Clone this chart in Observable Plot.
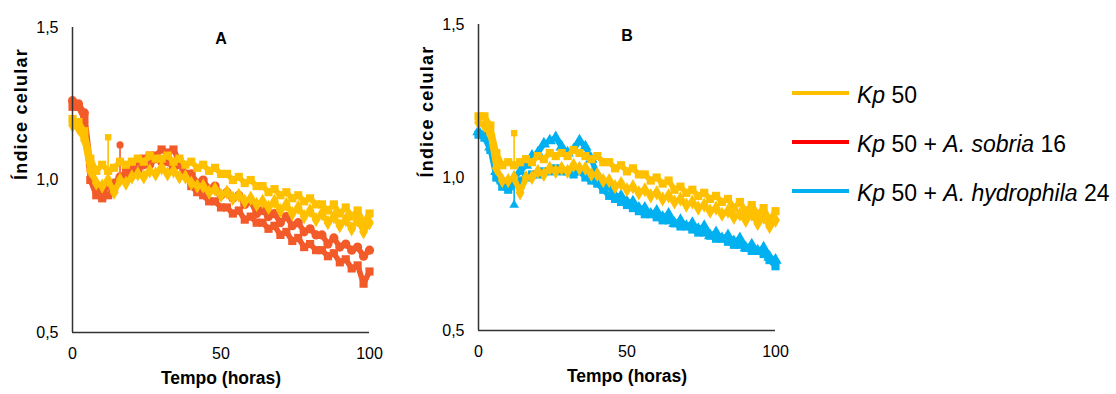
<!DOCTYPE html>
<html><head><meta charset="utf-8">
<script src="https://cdn.jsdelivr.net/npm/d3@7"></script>
<script src="https://cdn.jsdelivr.net/npm/@observablehq/plot@0.6"></script>
<style>
body{margin:0;background:#fff;font-family:"Liberation Sans",Arial,sans-serif;}
#wrap{position:relative;width:1116px;height:394px;overflow:hidden;background:#fff}
#pa{position:absolute;left:0;top:0}
#pb{position:absolute;left:406px;top:0}
#legend{position:absolute;left:792px;top:0;width:324px;height:394px}
.row{position:absolute;left:0;height:28px;white-space:nowrap;display:flex;align-items:center}
.sw{width:57px;height:4px;flex:none}
.lab{margin-left:8px;font-size:23px;color:#000;position:relative;top:2px}
</style></head>
<body><div id="wrap"><div id="pa"></div><div id="pb"></div><div id="legend"></div></div>
<script>
// ---- data ----
const hours = [0,2,4,6,8,10,12,14,16,18,20,22,24,26,28,30,32,34,36,38,40,42,44,46,48,50,52,54,56,58,60,62,64,66,68,70,72,74,76,78,80,82,84,86,88,90,92,94,96,98,100];

const xTicks = [0, 50, 100];
const yTicks = [0.5, 1.0, 1.5];
const panelLabels = ["A", "B"];
const xTitle = "Tempo (horas)";
const yTitle = "Índice celular";

// Panel A
const aKp50rep1 = [1.20,1.19,1.16,1.07,1.03,1.05,1.03,1.04,1.06,1.05,1.06,1.07,1.06,1.08,1.07,1.07,1.08,1.06,1.07,1.05,1.06,1.04,1.05,1.03,1.04,1.02,1.02,1.00,1.01,0.99,1.00,0.98,0.98,0.96,0.97,0.95,0.96,0.94,0.95,0.93,0.94,0.92,0.92,0.90,0.92,0.89,0.91,0.88,0.90,0.86,0.89];
const aKp50rep2 = [1.18,1.17,1.13,1.03,0.99,0.98,1.00,0.96,1.00,0.99,1.01,1.02,1.01,1.03,1.02,1.04,1.02,1.03,1.01,1.01,0.99,0.98,0.98,0.96,0.97,0.95,0.96,0.94,0.95,0.93,0.94,0.92,0.93,0.91,0.93,0.90,0.92,0.89,0.91,0.88,0.90,0.87,0.89,0.86,0.88,0.85,0.87,0.84,0.87,0.83,0.86];
const aSobriaRep1 = [1.26,1.25,1.22,1.05,0.97,0.96,0.98,0.99,1.01,1.01,1.03,1.03,1.05,1.05,1.07,1.06,1.06,1.04,1.05,1.02,1.02,0.99,1.00,0.97,0.98,0.95,0.96,0.94,0.95,0.92,0.93,0.89,0.90,0.88,0.89,0.86,0.88,0.85,0.86,0.83,0.84,0.82,0.82,0.79,0.81,0.78,0.79,0.77,0.78,0.75,0.77];
const aSobriaRep2 = [1.24,1.24,1.20,1.00,0.95,0.94,0.95,0.97,1.00,1.03,1.04,1.06,1.07,1.08,1.08,1.10,1.09,1.10,1.06,1.02,0.98,0.96,0.95,0.93,0.93,0.91,0.91,0.89,0.90,0.87,0.88,0.86,0.86,0.84,0.85,0.82,0.83,0.80,0.81,0.78,0.79,0.77,0.77,0.75,0.76,0.73,0.74,0.71,0.72,0.66,0.70];

// Panel B
const bKp50rep1 = [1.20,1.20,1.17,1.08,1.04,1.05,1.04,1.05,1.06,1.05,1.07,1.06,1.08,1.07,1.08,1.07,1.09,1.08,1.07,1.06,1.07,1.05,1.05,1.03,1.04,1.02,1.03,1.01,1.01,0.99,1.00,0.98,0.99,0.96,0.97,0.95,0.96,0.94,0.95,0.93,0.94,0.92,0.93,0.90,0.92,0.89,0.91,0.88,0.90,0.86,0.89];
const bKp50rep2 = [1.18,1.17,1.14,1.03,0.99,0.99,1.00,0.95,1.00,1.00,1.02,1.01,1.03,1.02,1.03,1.02,1.04,1.03,1.03,1.01,1.01,0.99,0.99,0.97,0.98,0.96,0.97,0.95,0.96,0.94,0.95,0.93,0.94,0.92,0.93,0.91,0.92,0.90,0.91,0.89,0.90,0.88,0.89,0.87,0.88,0.86,0.88,0.85,0.87,0.84,0.86];
const bHydroRep1 = [1.15,1.14,1.10,1.02,0.99,0.97,1.00,1.02,1.04,1.07,1.08,1.11,1.12,1.13,1.10,1.08,1.09,1.12,1.10,1.06,1.01,0.98,0.97,0.94,0.94,0.92,0.92,0.90,0.90,0.88,0.89,0.87,0.88,0.85,0.86,0.84,0.85,0.83,0.84,0.81,0.82,0.80,0.81,0.79,0.80,0.77,0.78,0.76,0.77,0.74,0.73];
const bHydroRep2 = [1.14,1.13,1.09,1.00,0.97,0.96,0.98,0.99,1.00,1.01,1.01,1.02,1.02,1.03,1.02,1.02,1.01,1.02,1.00,0.99,0.98,0.96,0.94,0.93,0.92,0.91,0.90,0.89,0.88,0.88,0.87,0.86,0.86,0.85,0.84,0.84,0.83,0.82,0.82,0.81,0.80,0.80,0.79,0.78,0.78,0.77,0.76,0.76,0.75,0.73,0.71];

// error-bar spikes: series name, hour, end value
const spikeSeries = ["aKp50rep1", "aSobriaRep1", "bKp50rep1", "bHydroRep1"];
const spikeHours  = [12, 16, 12, 12];
const spikeEnds   = [1.14, 1.115, 1.145, 0.91];

const legendNames = [["Kp"," 50"], ["Kp"," 50 + ","A. sobria"," 16"], ["Kp"," 50 + ","A. hydrophila"," 24"]];
const legendColors = ["#FFC000", "#FF0000", "#00B0F0"];

// ---- styling ----
const YEL = "#FFC000", RED = "#F35A2A", BLU = "#00B0F0";
const seriesDefs = {
  aKp50rep1: {vals: aKp50rep1, color: YEL, symbol: "square"},
  aKp50rep2: {vals: aKp50rep2, color: YEL, symbol: "diamond"},
  aSobriaRep1: {vals: aSobriaRep1, color: RED, symbol: "circle"},
  aSobriaRep2: {vals: aSobriaRep2, color: RED, symbol: "square"},
  bKp50rep1: {vals: bKp50rep1, color: YEL, symbol: "square"},
  bKp50rep2: {vals: bKp50rep2, color: YEL, symbol: "diamond"},
  bHydroRep1: {vals: bHydroRep1, color: BLU, symbol: "triangle"},
  bHydroRep2: {vals: bHydroRep2, color: BLU, symbol: "square"}
};
const panelSeries = [
  ["aSobriaRep2", "aSobriaRep1", "aKp50rep2", "aKp50rep1"],
  ["bHydroRep2", "bHydroRep1", "bKp50rep2", "bKp50rep1"]
];

function rowsFor(names) {
  const rows = [];
  for (const n of names) {
    const d = seriesDefs[n];
    hours.forEach((h, i) => rows.push({series: n, hour: h, value: d.vals[i], color: d.color, symbol: d.symbol}));
  }
  return rows;
}
function spikesFor(names) {
  const out = [];
  spikeSeries.forEach((s, i) => {
    if (!names.includes(s)) return;
    const d = seriesDefs[s];
    const base = d.vals[hours.indexOf(spikeHours[i])];
    out.push({hour: spikeHours[i], y1: base, y2: spikeEnds[i], color: d.color, symbol: d.symbol});
  });
  return out;
}

function panel(p, marginTop, marginBottom) {
  const names = panelSeries[p];
  const rows = rowsFor(names);
  const spikes = spikesFor(names);
  const marks = [];
  marks.push(Plot.ruleX(spikes, {x: "hour", y1: "y1", y2: "y2", stroke: "color", strokeWidth: 1.6}));
  marks.push(Plot.dot(spikes, {x: "hour", y: "y2", fill: "color", symbol: "symbol", r: 3.6, stroke: "none"}));
  for (const n of names) {
    const r = rows.filter(d => d.series === n);
    marks.push(Plot.line(r, {x: "hour", y: "value", stroke: "color", strokeWidth: 5.5}));
    marks.push(Plot.dot(r, {x: "hour", y: "value", fill: "color", symbol: "symbol", r: 4.6, stroke: "none"}));
  }
  marks.push(Plot.ruleX([0], {stroke: "#333", strokeWidth: 1.5}));
  marks.push(Plot.ruleY([0.5], {stroke: "#333", strokeWidth: 1.5}));
  marks.push(Plot.axisY(yTicks, {tickSize: 0, tickPadding: 14, fontSize: 16, label: null, tickFormat: d => d.toFixed(1).replace(".", ",")}));
  marks.push(Plot.axisX(xTicks, {tickSize: 0, tickPadding: 15, fontSize: 16, label: null}));
  marks.push(Plot.text([yTitle], {frameAnchor: "left", dx: -51, rotate: -90, fontWeight: "bold", fontSize: 18}));
  marks.push(Plot.text([xTitle], {frameAnchor: "bottom", dy: 51, fontWeight: "bold", fontSize: 17.5}));
  marks.push(Plot.text([panelLabels[p]], {frameAnchor: "top", dy: 5, fontWeight: "bold", fontSize: 16}));
  const svg = Plot.plot({
    width: 400, height: 394,
    marginLeft: 72, marginRight: 31, marginTop, marginBottom,
    x: {domain: [0, 100]},
    y: {domain: [0.5, 1.5]},
    style: {fontFamily: "'Liberation Sans', Arial, sans-serif", color: "#000", background: "transparent", overflow: "visible"},
    marks
  });
  d3.select(svg).selectAll("text").filter(function() { return this.textContent === yTitle; })
    .style("letter-spacing", "1.2px");
  return svg;
}

document.getElementById("pa").appendChild(panel(0, 27, 62));
document.getElementById("pb").appendChild(panel(1, 24, 64));

// legend
const leg = document.getElementById("legend");
const legTops = [93, 142, 191];
legendNames.forEach((parts, i) => {
  const row = document.createElement("div");
  row.className = "row";
  row.style.top = (legTops[i] - 14) + "px";
  const sw = document.createElement("div");
  sw.className = "sw";
  sw.style.background = legendColors[i];
  row.appendChild(sw);
  const lab = document.createElement("div");
  lab.className = "lab";
  parts.forEach((t, j) => {
    const s = document.createElement("span");
    s.textContent = t;
    if (j % 2 === 0) s.style.fontStyle = "italic";
    lab.appendChild(s);
  });
  row.appendChild(lab);
  leg.appendChild(row);
});
</script>
</body></html>
